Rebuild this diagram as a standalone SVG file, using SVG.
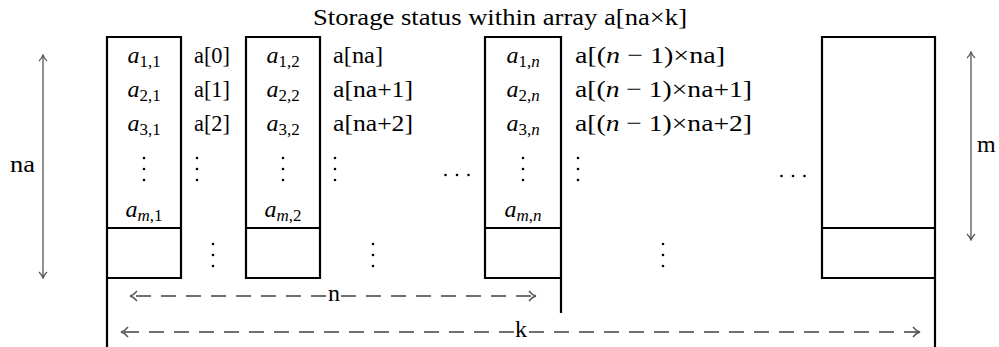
<svg xmlns="http://www.w3.org/2000/svg" width="999" height="347" viewBox="0 0 999 347">
<style>
text{font-family:"Liberation Serif","DejaVu Serif",serif;font-size:24px;fill:#000}
.m{text-anchor:middle}
.i{font-style:italic}
.s{font-size:17px}
.box{fill:none;stroke:#000;stroke-width:2.2}
.dot{fill:#000}
.va{fill:none;stroke:#555;stroke-width:1.3}
.da{fill:none;stroke:#707070;stroke-width:2;stroke-dasharray:15 10}
</style>
<defs>
<marker id="ah" viewBox="0 0 10 10" refX="9" refY="5" markerWidth="10" markerHeight="10" markerUnits="userSpaceOnUse" orient="auto">
<path d="M3,1 Q6,4 9,5 Q6,6 3,9" fill="none" stroke="#555" stroke-width="1.2"/>
</marker>
<marker id="ahd" viewBox="0 0 12 12" refX="11" refY="6" markerWidth="12" markerHeight="12" markerUnits="userSpaceOnUse" orient="auto">
<path d="M4,1 Q7,5 11,6 Q7,7 4,11" fill="none" stroke="#555" stroke-width="1.4"/>
</marker>
<circle id="d" r="1.3" class="dot"/>
<g id="vd"><use href="#d" y="-11"/><use href="#d"/><use href="#d" y="11"/></g>
<g id="hd"><use href="#d" x="-11.5"/><use href="#d"/><use href="#d" x="11.5"/></g>
</defs>

<text id="title" x="313" y="25" textLength="374" lengthAdjust="spacingAndGlyphs">Storage status within array a[na×k]</text>

<g id="col1">
<path class="box" d="M107,347 V37 H181 V278 H107 M107,228 H181"/>
<text class="m" x="144" y="63"><tspan class="i">a</tspan><tspan class="s" dy="4">1,1</tspan></text>
<text class="m" x="144" y="97"><tspan class="i">a</tspan><tspan class="s" dy="4">2,1</tspan></text>
<text class="m" x="144" y="131"><tspan class="i">a</tspan><tspan class="s" dy="4">3,1</tspan></text>
<use href="#vd" x="144" y="169"/>
<text class="m" x="144" y="217"><tspan class="i">a</tspan><tspan class="s" dy="4"><tspan class="i">m</tspan>,1</tspan></text>
</g>
<g id="idx1">
<text x="194" y="63" textLength="36" lengthAdjust="spacingAndGlyphs">a[0]</text>
<text x="194" y="97" textLength="36" lengthAdjust="spacingAndGlyphs">a[1]</text>
<text x="194" y="131" textLength="36" lengthAdjust="spacingAndGlyphs">a[2]</text>
<use href="#vd" x="197" y="169"/>
<use href="#vd" x="213" y="255"/>
</g>

<g id="col2">
<path class="box" d="M246,278 V37 H320 V278 Z M246,228 H320"/>
<text class="m" x="283" y="63"><tspan class="i">a</tspan><tspan class="s" dy="4">1,2</tspan></text>
<text class="m" x="283" y="97"><tspan class="i">a</tspan><tspan class="s" dy="4">2,2</tspan></text>
<text class="m" x="283" y="131"><tspan class="i">a</tspan><tspan class="s" dy="4">3,2</tspan></text>
<use href="#vd" x="283" y="169"/>
<text class="m" x="283" y="217"><tspan class="i">a</tspan><tspan class="s" dy="4"><tspan class="i">m</tspan>,2</tspan></text>
</g>
<g id="idx2">
<text x="333" y="63" textLength="50" lengthAdjust="spacingAndGlyphs">a[na]</text>
<text x="333" y="97" textLength="80" lengthAdjust="spacingAndGlyphs">a[na+1]</text>
<text x="333" y="131" textLength="80" lengthAdjust="spacingAndGlyphs">a[na+2]</text>
<use href="#vd" x="335" y="169"/>
<use href="#vd" x="373" y="255"/>
<use href="#hd" x="457" y="175"/>
</g>

<g id="coln">
<path class="box" d="M561,313 V37 H485 V278 H561 M485,228 H561"/>
<text class="m" x="523" y="63"><tspan class="i">a</tspan><tspan class="s" dy="4">1,<tspan class="i">n</tspan></tspan></text>
<text class="m" x="523" y="97"><tspan class="i">a</tspan><tspan class="s" dy="4">2,<tspan class="i">n</tspan></tspan></text>
<text class="m" x="523" y="131"><tspan class="i">a</tspan><tspan class="s" dy="4">3,<tspan class="i">n</tspan></tspan></text>
<use href="#vd" x="523" y="169"/>
<text class="m" x="523" y="217"><tspan class="i">a</tspan><tspan class="s" dy="4"><tspan class="i">m</tspan>,<tspan class="i">n</tspan></tspan></text>
</g>
<g id="idxn">
<text x="575" y="63" textLength="150" lengthAdjust="spacingAndGlyphs">a[(<tspan class="i">n</tspan> − 1)×na]</text>
<text x="575" y="97" textLength="177" lengthAdjust="spacingAndGlyphs">a[(<tspan class="i">n</tspan> − 1)×na+1]</text>
<text x="575" y="131" textLength="177" lengthAdjust="spacingAndGlyphs">a[(<tspan class="i">n</tspan> − 1)×na+2]</text>
<use href="#vd" x="578" y="169"/>
<use href="#vd" x="663" y="255"/>
<use href="#hd" x="793" y="176"/>
</g>

<g id="colk">
<path class="box" d="M935,347 V37 H822 V278 H935 M822,228 H935"/>
</g>

<g id="connectors">
<path class="va" d="M43,166 V55" marker-end="url(#ah)"/>
<path class="va" d="M43,166 V278" marker-end="url(#ah)"/>
<path class="va" d="M971,146 V52" marker-end="url(#ah)"/>
<path class="va" d="M971,146 V240" marker-end="url(#ah)"/>
<path class="da" d="M326,296 H130" marker-end="url(#ahd)"/>
<path class="da" d="M341,296 H536" marker-end="url(#ahd)"/>
<path class="da" d="M514,332 H121" marker-end="url(#ahd)"/>
<path class="da" d="M529,332 H920" marker-end="url(#ahd)"/>
</g>
<g id="labels">
<text x="10" y="172" textLength="25" lengthAdjust="spacingAndGlyphs">na</text>
<text x="977" y="152">m</text>
<text class="m" x="334" y="301">n</text>
<text class="m" x="521" y="337">k</text>
</g>
</svg>
